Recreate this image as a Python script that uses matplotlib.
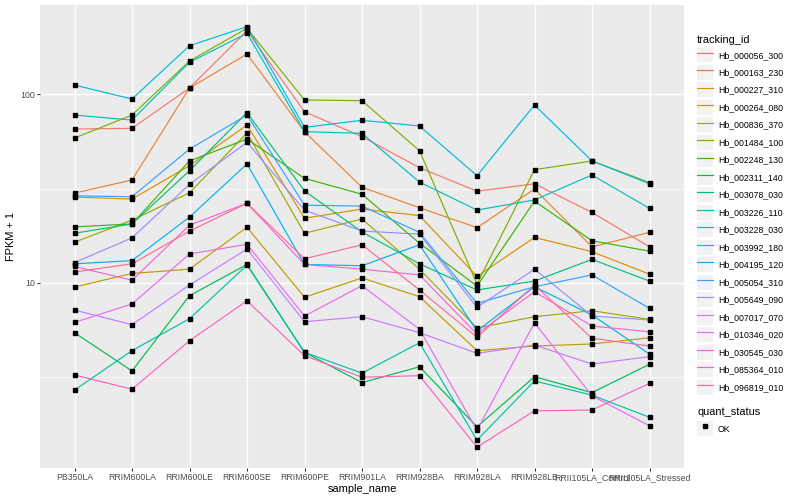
import matplotlib
matplotlib.use('Agg')
import matplotlib.pyplot as plt
from matplotlib.lines import Line2D
from matplotlib.patches import Rectangle
from matplotlib.legend_handler import HandlerLine2D

plt.rcParams['font.family'] = ['Liberation Sans', 'DejaVu Sans']

samples = ['PB350LA', 'RRIM600LA', 'RRIM600LE', 'RRIM600SE', 'RRIM600PE', 'RRIM901LA',
           'RRIM928BA', 'RRIM928LA', 'RRIM928LB', 'RRII105LA_Control', 'RRII105LA_Stressed']

ids = ['Hb_000056_300', 'Hb_000163_230', 'Hb_000227_310', 'Hb_000264_080', 'Hb_000836_370',
       'Hb_001484_100', 'Hb_002248_130', 'Hb_002311_140', 'Hb_003078_030', 'Hb_003226_110',
       'Hb_003228_030', 'Hb_003992_180', 'Hb_004195_120', 'Hb_005054_310', 'Hb_005649_090',
       'Hb_007017_070', 'Hb_010346_020', 'Hb_030545_030', 'Hb_085364_010', 'Hb_096819_010']

# ggplot hue palette for 20 groups
colors = ['#F8766D', '#EA8331', '#D89000', '#C09B00', '#A3A500', '#7CAE00', '#39B600', '#00BB4E',
          '#00BF7D', '#00C1A3', '#00BFC4', '#00BAE0', '#00B0F6', '#35A2FF', '#9590FF', '#C77CFF',
          '#E76BF3', '#FA62DB', '#FF62BC', '#FF6C91']

# FPKM + 1, one value per sample
hb_000056_300 = [65.4, 66.0, 108.0, 217.6, 80.8, 59.6, 40.8, 30.6, 33.5, 23.6, 15.5]
hb_000163_230 = [29.9, 35.1, 108.0, 163.6, 63.3, 32.1, 25.0, 19.6, 31.4, 15.5, 18.5]
hb_000227_310 = [28.5, 27.8, 41.8, 68.7, 22.0, 24.6, 22.7, 10.8, 17.4, 14.6, 11.1]
hb_000264_080 = [9.49, 11.2, 11.8, 19.7, 8.37, 10.6, 8.43, 4.36, 4.61, 4.73, 5.10]
hb_000836_370 = [16.4, 21.5, 30.0, 62.3, 18.3, 21.8, 11.8, 5.75, 6.60, 7.10, 6.39]
hb_001484_100 = [58.6, 77.6, 150.2, 224.0, 93.3, 92.5, 50.2, 9.84, 39.8, 44.3, 34.0]
hb_002248_130 = [19.8, 20.5, 44.3, 57.9, 35.8, 29.5, 16.2, 9.6, 27.1, 16.7, 14.7]
hb_002311_140 = [5.43, 3.40, 8.53, 12.5, 4.27, 2.95, 3.58, 1.72, 3.17, 2.61, 3.69]
hb_003078_030 = [18.3, 20.5, 39.3, 79.9, 30.7, 18.6, 12.6, 9.15, 10.2, 13.3, 10.2]
hb_003226_110 = [2.69, 4.36, 6.44, 12.4, 4.27, 3.31, 4.80, 1.46, 3.01, 2.53, 1.93]
hb_003228_030 = [77.6, 73.0, 147.9, 210.8, 63.3, 62.1, 34.2, 24.3, 27.5, 37.3, 24.8]
hb_003992_180 = [112.0, 94.4, 181.1, 228.5, 66.8, 72.8, 67.9, 37.0, 87.7, 44.3, 33.5]
hb_004195_120 = [12.6, 13.1, 22.3, 42.7, 12.5, 12.3, 15.9, 5.54, 9.52, 6.74, 4.18]
hb_005054_310 = [28.9, 28.6, 51.2, 77.6, 25.8, 25.5, 18.5, 7.77, 9.52, 11.0, 7.31]
hb_005649_090 = [12.8, 17.3, 33.3, 55.6, 24.3, 18.8, 18.1, 7.40, 11.8, 6.66, 6.34]
hb_007017_070 = [7.16, 5.99, 9.72, 15.1, 6.21, 6.60, 5.43, 4.22, 4.67, 3.70, 4.05]
hb_010346_020 = [6.16, 7.71, 14.2, 16.0, 6.66, 9.64, 5.66, 1.65, 6.13, 2.51, 1.74]
hb_030545_030 = [12.2, 10.3, 20.2, 26.4, 12.5, 11.8, 11.0, 5.34, 8.96, 5.89, 5.49]
hb_085364_010 = [3.24, 2.72, 4.92, 8.02, 4.10, 3.15, 3.21, 1.34, 2.09, 2.11, 2.92]
hb_096819_010 = [11.4, 12.6, 18.8, 26.4, 13.4, 15.9, 9.15, 5.13, 9.72, 5.07, 4.61]

series = [hb_000056_300, hb_000163_230, hb_000227_310, hb_000264_080, hb_000836_370,
          hb_001484_100, hb_002248_130, hb_002311_140, hb_003078_030, hb_003226_110,
          hb_003228_030, hb_003992_180, hb_004195_120, hb_005054_310, hb_005649_090,
          hb_007017_070, hb_010346_020, hb_030545_030, hb_085364_010, hb_096819_010]


class KeyHandler(HandlerLine2D):
    # grey ggplot-like key box behind each legend entry
    def create_artists(self, legend, orig_handle, xdescent, ydescent, width, height, fontsize, trans):
        arts = super().create_artists(legend, orig_handle, xdescent, ydescent, width, height, fontsize, trans)
        box = Rectangle((-xdescent, -ydescent), width, height,
                        facecolor='#F2F2F2', edgecolor='none', transform=trans)
        return [box] + arts


fig = plt.figure(figsize=(8, 5), dpi=100)
ax = fig.add_axes([0.05, 0.0634, 0.805, 0.9266])
ax.set_facecolor('#EBEBEB')

x = list(range(len(samples)))
for vals, c in zip(series, colors):
    ax.plot(x, vals, color=c, lw=0.85, zorder=3)
for vals in series:
    ax.plot(x, vals, ls='none', marker='s', ms=2.3, color='black', zorder=4)

ax.set_yscale('log')
ax.set_ylim(1.035, 297.9)
ax.set_xlim(-0.6, len(samples) - 0.4)
ax.set_yticks([10, 100])
ax.set_yticklabels(['10', '100'])
ax.set_yticks([10 ** 0.5, 10 ** 1.5], minor=True)
ax.yaxis.set_minor_formatter(plt.NullFormatter())
ax.set_xticks(x)
ax.set_xticklabels(samples)

ax.grid(True, which='major', color='white', lw=1.0, zorder=0)
ax.grid(True, which='minor', axis='y', color='white', lw=0.5, zorder=0)
ax.set_axisbelow(True)
for s in ax.spines.values():
    s.set_visible(False)
ax.tick_params(which='major', length=2.0, width=0.8, color='#333333', labelcolor='#4D4D4D',
               labelsize=6.3, pad=1.6)
ax.tick_params(which='minor', length=0)

ax.set_xlabel('sample_name', fontsize=7.9, labelpad=1.5)
ax.set_ylabel('FPKM + 1', fontsize=7.9, labelpad=3)

handles = [Line2D([], [], color=c, lw=0.85) for c in colors]
leg1 = ax.legend(handles, ids, title='tracking_id', loc='upper left',
                 bbox_to_anchor=(697 / 800, 1 - 35 / 500), bbox_transform=fig.transFigure,
                 frameon=False, fontsize=6.3, title_fontsize=7.9, alignment='left',
                 handlelength=1.8, handleheight=2.25, labelspacing=0.29, handletextpad=0.6,
                 borderpad=0, borderaxespad=0, handler_map={Line2D: KeyHandler()})
ax.add_artist(leg1)

ok = Line2D([], [], ls='none', marker='s', ms=2.3, color='black')
leg2 = ax.legend([ok], ['OK'], title='quant_status', loc='upper left',
                 bbox_to_anchor=(697 / 800, 1 - 407 / 500), bbox_transform=fig.transFigure,
                 frameon=False, fontsize=6.3, title_fontsize=7.9, alignment='left',
                 handlelength=1.8, handleheight=2.25, handletextpad=0.6,
                 borderpad=0, borderaxespad=0, handler_map={Line2D: KeyHandler()})

fig.savefig('out.png', dpi=100)
